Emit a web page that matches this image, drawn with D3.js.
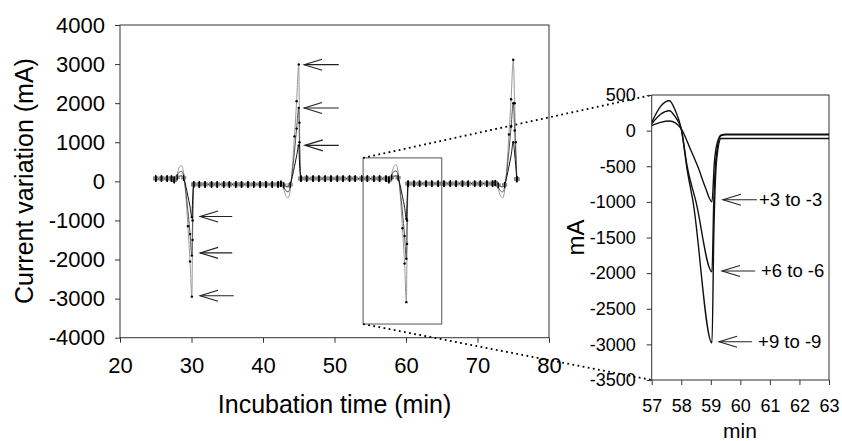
<!DOCTYPE html>
<html lang="en">
<head>
<meta charset="UTF-8">
<title>Current variation</title>
<script src="https://d3js.org/d3.v7.min.js"></script>
<style>
    body { margin: 0; padding: 0; background: white; }
    svg { display: block; font-family: "Liberation Sans", Arial, sans-serif; }
    .axis path, .axis line { stroke: #333; }
    .axis text { fill: black; }
</style>
</head>
<body>
<svg id="chart" width="842" height="441"></svg>
<script>
// main chart: time (min) and current variation (mA) for the three step sizes
const mainTime = [
    25.0, 25.8, 26.6, 27.2,
    27.6, 28.0, 28.3, 28.6, 28.9, 29.2, 29.5, 29.8, 30.05, 30.15, 30.3,
    31.1, 31.9, 32.8, 33.6, 34.5, 35.3, 36.2, 37.0, 37.9, 38.7, 39.6, 40.4, 41.3, 42.1,
    42.5, 42.9, 43.2, 43.5, 43.8, 44.1, 44.4, 44.7, 45.0, 45.1, 45.3,
    46.1, 47.0, 47.8, 48.7, 49.5, 50.4, 51.2, 52.1, 52.9, 53.8, 54.6, 55.5, 56.3, 57.2,
    57.6, 58.0, 58.3, 58.6, 58.9, 59.2, 59.5, 59.8, 60.05, 60.15, 60.3,
    61.1, 61.9, 62.8, 63.6, 64.5, 65.3, 66.2, 67.0, 67.9, 68.7, 69.6, 70.4, 71.3, 72.1,
    72.5, 72.9, 73.2, 73.5, 73.8, 74.1, 74.4, 74.7, 75.0, 75.2, 75.35, 75.5
];
const main9 = [
    80, 80, 80, 80,
    20, 200, 370, 400, 220, -350, -1150, -2050, -2950, -1500, -90,
    -90, -90, -90, -90, -90, -90, -90, -90, -90, -90, -90, -90, -90, -90,
    -60, -200, -370, -420, -230, 350, 1150, 2050, 2990, 1500, 80,
    80, 80, 80, 80, 80, 80, 80, 80, 80, 80, 80, 80, 80, 80,
    20, 200, 380, 430, 230, -350, -1200, -2100, -3090, -1600, -70,
    -70, -70, -70, -70, -70, -70, -70, -70, -70, -70, -70, -70, -70, -70,
    -40, -200, -370, -425, -230, 350, 1200, 2100, 3110, 2000, 1000, 60
];
const main6 = [
    70, 70, 70, 70,
    40, 150, 240, 260, 140, -250, -750, -1350, -1900, -1000, -80,
    -80, -80, -80, -80, -80, -80, -80, -80, -80, -80, -80, -80, -80, -80,
    -65, -150, -240, -270, -150, 250, 750, 1350, 1880, 1000, 70,
    70, 70, 70, 70, 70, 70, 70, 70, 70, 70, 70, 70, 70, 70,
    40, 150, 250, 270, 140, -250, -780, -1400, -1980, -1000, -60,
    -60, -60, -60, -60, -60, -60, -60, -60, -60, -60, -60, -60, -60, -60,
    -45, -150, -240, -270, -150, 250, 780, 1400, 2000, 1300, 700, 55
];
const main3 = [
    60, 60, 60, 60,
    50, 100, 130, 140, 90, -120, -380, -650, -920, -500, -70,
    -70, -70, -70, -70, -70, -70, -70, -70, -70, -70, -70, -70, -70, -70,
    -60, -100, -130, -140, -90, 120, 380, 650, 920, 500, 60,
    60, 60, 60, 60, 60, 60, 60, 60, 60, 60, 60, 60, 60, 60,
    50, 100, 130, 140, 90, -120, -380, -660, -960, -500, -50,
    -50, -50, -50, -50, -50, -50, -50, -50, -50, -50, -50, -50, -50, -50,
    -45, -100, -130, -140, -90, 120, 380, 660, 1000, 700, 400, 50
];

// inset: zoom on one switching event
const inset3T = [57, 57.3, 57.6, 57.8, 58.0, 58.3, 58.57, 58.8, 59.04, 59.12, 59.2, 59.35, 59.5, 63];
const inset3V = [70, 115, 135, 110, 25, -250, -515, -780, -1000, -450, -200, -60, -50, -50];
const inset6T = [57, 57.3, 57.6, 57.8, 58.0, 58.2, 58.5, 59.04, 59.1, 59.2, 59.35, 59.5, 63];
const inset6V = [95, 230, 280, 190, 25, -500, -1000, -1980, -1000, -300, -70, -60, -60];
const inset9T = [57, 57.3, 57.6, 57.8, 58.0, 58.2, 58.4, 59.04, 59.1, 59.2, 59.35, 59.5, 63];
const inset9V = [115, 340, 420, 280, 25, -550, -1000, -2980, -1500, -400, -110, -110, -110];

// tick values
const mainXTicks = [20, 30, 40, 50, 60, 70, 80];
const mainYTicks = [-4000, -3000, -2000, -1000, 0, 1000, 2000, 3000, 4000];
const insetXTicks = [57, 58, 59, 60, 61, 62, 63];
const insetYTicks = [-3500, -3000, -2500, -2000, -1500, -1000, -500, 0, 500];

// arrows on the main chart (tip x, tail x, y)
const mainArrowTip = [31.2, 31.2, 31.2, 45.75, 45.75, 45.85];
const mainArrowTail = [35.7, 35.7, 35.9, 50.6, 50.6, 50.6];
const mainArrowY = [-900, -1830, -2925, 2985, 1877, 921];

// arrows and labels in the inset
const insetLabels = ["+3 to -3", "+6 to -6", "+9 to -9"];
const insetArrowTip = [59.41, 59.38, 59.28];
const insetArrowTail = [60.56, 60.5, 60.39];
const insetLabelX = [60.63, 60.7, 60.6];
const insetArrowY = [-970, -1970, -2963];

// zoomed region shown in the main chart
const boxX = [54, 65];
const boxY = [600, -3650];

const svg = d3.select("#chart");
const plain = d => String(d);

const x = d3.scaleLinear().domain([20, 80]).range([120, 549]);
const y = d3.scaleLinear().domain([-4000, 4000]).range([337.7, 25]);
const xi = d3.scaleLinear().domain([57, 63]).range([651.7, 829]);
const yi = d3.scaleLinear().domain([-3500, 500]).range([380, 95]);

function frame(xs, ys) {
    svg.append("rect")
        .attr("x", xs.range()[0]).attr("y", ys.range()[1])
        .attr("width", xs.range()[1] - xs.range()[0])
        .attr("height", ys.range()[0] - ys.range()[1])
        .attr("fill", "none").attr("stroke", "#333").attr("stroke-width", 1);
}

function arrow(g, x1, x2, yy, head) {
    g.append("line").attr("x1", x1).attr("y1", yy).attr("x2", x2).attr("y2", yy);
    g.append("polyline")
        .attr("points", [[x1 + head, yy - 5.5], [x1, yy], [x1 + head, yy + 5.5]].join(" "))
        .attr("fill", "none");
}

// ---- main chart ----
frame(x, y);

svg.append("g").attr("class", "axis")
    .attr("transform", "translate(0,337.7)")
    .call(d3.axisBottom(x).tickValues(mainXTicks).tickFormat(plain)
        .tickSize(5).tickPadding(15).tickSizeOuter(0))
    .call(g => g.select(".domain").remove())
    .selectAll("text").attr("font-size", "22px");

svg.append("g").attr("class", "axis")
    .attr("transform", "translate(120,0)")
    .call(d3.axisLeft(y).tickValues(mainYTicks).tickFormat(plain)
        .tickSize(5).tickPadding(10).tickSizeOuter(0))
    .call(g => g.select(".domain").remove())
    .selectAll("text").attr("font-size", "22px");

const mainSeries = [
    { values: main9, color: "#999" },
    { values: main6, color: "#555" },
    { values: main3, color: "#111" }
];

const mainLine = d3.line().curve(d3.curveMonotoneX);

mainSeries.forEach(s => {
    const pts = mainTime.map((t, i) => [x(t), y(s.values[i])]);
    svg.append("path")
        .attr("d", mainLine(pts))
        .attr("fill", "none")
        .attr("stroke", s.color)
        .attr("stroke-width", 1);
});

// baseline samples get a square marker with a black tick, spike samples a small dot
const isBase = v => Math.abs(v) <= 100;
mainSeries.forEach(s => {
    const g = svg.append("g");
    mainTime.forEach((t, i) => {
        if (!isBase(s.values[i])) return;
        g.append("rect")
            .attr("x", x(t) - 2.6).attr("y", y(s.values[i]) - 1.8)
            .attr("width", 5.2).attr("height", 3.4)
            .attr("fill", "#8a8a8a");
    });
});
mainSeries.forEach(s => {
    const g = svg.append("g");
    mainTime.forEach((t, i) => {
        const v = s.values[i];
        if (isBase(v)) {
            g.append("rect")
                .attr("x", x(t) - 0.7).attr("y", y(v) - 3)
                .attr("width", 1.4).attr("height", 6)
                .attr("fill", "black");
        } else if (Math.abs(v) >= 800) {
            g.append("circle")
                .attr("cx", x(t)).attr("cy", y(v)).attr("r", 1.2)
                .attr("fill", "black");
        }
    });
});

const mainArrows = svg.append("g").attr("stroke", "#222").attr("stroke-width", 1.1);
mainArrowY.forEach((v, i) => {
    arrow(mainArrows, x(mainArrowTip[i]), x(mainArrowTail[i]), y(v), 18);
});

// zoom box and connecting dotted lines
svg.append("rect")
    .attr("x", x(boxX[0])).attr("y", y(boxY[0]))
    .attr("width", x(boxX[1]) - x(boxX[0]))
    .attr("height", y(boxY[1]) - y(boxY[0]))
    .attr("fill", "none").attr("stroke", "#555").attr("stroke-width", 1);

const dotted = svg.append("g")
    .attr("stroke", "black").attr("stroke-width", 1.8)
    .attr("stroke-dasharray", "1.8,3.4");
dotted.append("line")
    .attr("x1", x(boxX[0])).attr("y1", y(boxY[0]))
    .attr("x2", xi(57)).attr("y2", yi(500));
dotted.append("line")
    .attr("x1", x(boxX[0])).attr("y1", y(boxY[1]))
    .attr("x2", xi(57)).attr("y2", yi(-3500));

svg.append("text")
    .attr("transform", "translate(33,181) rotate(-90)")
    .attr("text-anchor", "middle")
    .attr("font-size", "25px")
    .text("Current variation (mA)");

svg.append("text")
    .attr("x", 334.5).attr("y", 413)
    .attr("text-anchor", "middle")
    .attr("font-size", "25px")
    .text("Incubation time (min)");

// ---- inset ----
svg.append("defs").append("clipPath").attr("id", "inset-clip")
    .append("rect")
    .attr("x", 651.7).attr("y", 95).attr("width", 829 - 651.7).attr("height", 285);

svg.append("g").attr("class", "axis")
    .attr("transform", "translate(0,380)")
    .call(d3.axisBottom(xi).tickValues(insetXTicks).tickFormat(plain)
        .tickSize(5).tickPadding(14).tickSizeOuter(0))
    .call(g => g.select(".domain").remove())
    .selectAll("text").attr("font-size", "18px");

svg.append("g").attr("class", "axis")
    .attr("transform", "translate(651.7,0)")
    .call(d3.axisLeft(yi).tickValues(insetYTicks).tickFormat(plain)
        .tickSize(5).tickPadding(11).tickSizeOuter(0))
    .call(g => g.select(".domain").remove())
    .selectAll("text").attr("font-size", "18px");

frame(xi, yi);

const insetSeries = [
    { t: inset3T, v: inset3V },
    { t: inset6T, v: inset6V },
    { t: inset9T, v: inset9V }
];

const insetLine = d3.line().curve(d3.curveMonotoneX);
insetSeries.forEach(s => {
    svg.append("path")
        .attr("clip-path", "url(#inset-clip)")
        .attr("d", insetLine(s.t.map((t, i) => [xi(t), yi(s.v[i])])))
        .attr("fill", "none")
        .attr("stroke", "#111")
        .attr("stroke-width", 1.4);
});

const insetArrows = svg.append("g").attr("stroke", "#222").attr("stroke-width", 1.1);
insetArrowY.forEach((v, i) => {
    arrow(insetArrows, xi(insetArrowTip[i]), xi(insetArrowTail[i]), yi(v), 18);
    svg.append("text")
        .attr("x", xi(insetLabelX[i])).attr("y", yi(v))
        .attr("dy", "0.35em")
        .attr("font-size", "18.5px")
        .text(insetLabels[i]);
});

svg.append("text")
    .attr("transform", "translate(584,237.5) rotate(-90)")
    .attr("text-anchor", "middle")
    .attr("font-size", "24px")
    .text("mA");

svg.append("text")
    .attr("x", 740).attr("y", 437.5)
    .attr("text-anchor", "middle")
    .attr("font-size", "21px")
    .text("min");
</script>
</body>
</html>
